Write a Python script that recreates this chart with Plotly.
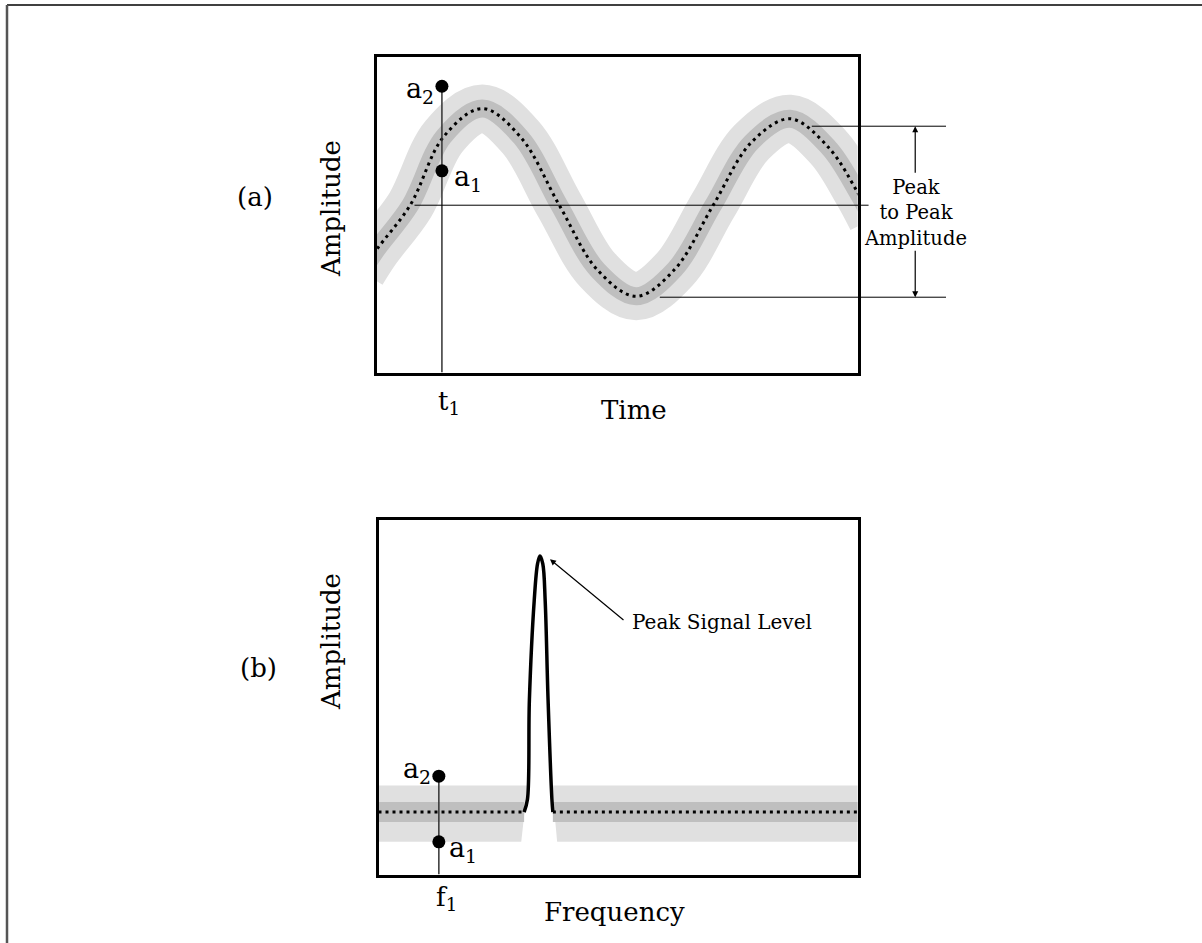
import plotly.graph_objects as go

W, H = 1202, 943
FONT = "DejaVu Serif"
LIGHT = "#e0e0e0"
DARK = "#bfbfbf"

# ---- panel (a): time domain signal
t_sig = [-0.3, 0.0, 0.7, 1.4, 2.2, 3.0, 3.8, 4.6, 5.4, 6.2, 7.0, 7.8, 8.6, 9.4, 10.0, 10.3]
a_sig = [-0.72, -0.48, 0.0, 0.74, 1.04, 0.73, 0.0, -0.70, -0.98, -0.69, 0.0, 0.68, 0.93, 0.62, 0.14, -0.15]
t1 = 1.36
t1_a1, t1_a2 = 0.37, 1.28
mid_level, mid_start, mid_end = 0.0, 0.79, 10.23
pp_hi, pp_hi_start = 0.85, 9.05
pp_lo, pp_lo_start = -0.99, 5.89
pp_end = 11.84
pp_x = 11.2

# ---- panel (b): spectrum
f_floor_left = [0.0, 3.04]
f_floor_right = [3.64, 10.0]
floor_level = 1.76
dark_band = [1.48, 2.04]
light_band = [0.92, 2.51]
notch_top = [3.11, 3.62]
notch_bottom = [2.98, 3.73]
peak_f = [3.04, 3.11, 3.15, 3.25, 3.32, 3.37, 3.43, 3.48, 3.54, 3.62, 3.64]
peak_a = [1.76, 2.12, 4.92, 7.70, 8.75, 8.97, 8.75, 7.70, 4.92, 2.12, 1.76]
f1 = 1.26
f1_a1, f1_a2 = 0.92, 2.77
peak_arrow = (3.58, 8.88)

# axes layout (pixel boxes of the two panels, box line drawn just outside the domain)
AX_A = dict(xr=[0, 10], yr=[-1.8, 1.6], xd=[376.5 / W, 857.5 / W], yd=[1 - 372.5 / H, 1 - 56.5 / H])
AX_B = dict(xr=[0, 10], yr=[0, 10], xd=[378.5 / W, 857.5 / W], yd=[1 - 874.5 / H, 1 - 519.5 / H])


def to_paper(ax, x, y):
    px = ax["xd"][0] + (x - ax["xr"][0]) / (ax["xr"][1] - ax["xr"][0]) * (ax["xd"][1] - ax["xd"][0])
    py = ax["yd"][0] + (y - ax["yr"][0]) / (ax["yr"][1] - ax["yr"][0]) * (ax["yd"][1] - ax["yd"][0])
    return px, py


def pix(x, y):
    return x / W, 1 - y / H


fig = go.Figure()

# (a) bands + dotted signal
fig.add_trace(go.Scatter(x=t_sig, y=a_sig, mode="lines", line=dict(color=LIGHT, width=48, shape="spline"),
                         xaxis="x", yaxis="y", hoverinfo="skip"))
fig.add_trace(go.Scatter(x=t_sig, y=a_sig, mode="lines", line=dict(color=DARK, width=18, shape="spline"),
                         xaxis="x", yaxis="y", hoverinfo="skip"))
fig.add_trace(go.Scatter(x=t_sig, y=a_sig, mode="lines",
                         line=dict(color="black", width=3, shape="spline", dash="3px,4px"),
                         xaxis="x", yaxis="y", hoverinfo="skip"))
fig.add_trace(go.Scatter(x=[t1, t1], y=[AX_A["yr"][0], t1_a2], mode="lines", line=dict(color="#333", width=1.5),
                         xaxis="x", yaxis="y", hoverinfo="skip"))
fig.add_trace(go.Scatter(x=[t1, t1], y=[t1_a1, t1_a2], mode="markers", marker=dict(color="black", size=13),
                         xaxis="x", yaxis="y", hoverinfo="skip"))

# (b) bands with a notch under the peak
for xs in [[-0.1, notch_top[0], notch_bottom[0], -0.1], [notch_top[1], 10.1, 10.1, notch_bottom[1]]]:
    fig.add_trace(go.Scatter(x=xs + [xs[0]], y=[light_band[1], light_band[1], light_band[0], light_band[0],
                                                light_band[1]], mode="lines",
                             fill="toself", fillcolor=LIGHT, line=dict(width=0), xaxis="x2", yaxis="y2",
                             hoverinfo="skip"))
for xs in [[-0.1, f_floor_left[1]], [f_floor_right[0], 10.1]]:
    fig.add_trace(go.Scatter(x=[xs[0], xs[1], xs[1], xs[0], xs[0]],
                             y=[dark_band[1], dark_band[1], dark_band[0], dark_band[0], dark_band[1]],
                             mode="lines", fill="toself", fillcolor=DARK, line=dict(width=0),
                             xaxis="x2", yaxis="y2", hoverinfo="skip"))
for xs in [f_floor_left, f_floor_right]:
    fig.add_trace(go.Scatter(x=xs, y=[floor_level, floor_level], mode="lines",
                             line=dict(color="black", width=3, dash="3px,4px"),
                             xaxis="x2", yaxis="y2", hoverinfo="skip"))
fig.add_trace(go.Scatter(x=peak_f, y=peak_a, mode="lines", line=dict(color="black", width=3.5, shape="spline"),
                         xaxis="x2", yaxis="y2", hoverinfo="skip"))
fig.add_trace(go.Scatter(x=[f1, f1], y=[0, f1_a2], mode="lines", line=dict(color="#333", width=1.5),
                         xaxis="x2", yaxis="y2", hoverinfo="skip"))
fig.add_trace(go.Scatter(x=[f1, f1], y=[f1_a1, f1_a2], mode="markers", marker=dict(color="black", size=13),
                         xaxis="x2", yaxis="y2", hoverinfo="skip"))

shapes = []
# outer frame (top + left edges visible)
shapes.append(dict(type="line", xref="paper", yref="paper", x0=7 / W, x1=1.01, y0=1 - 5 / H, y1=1 - 5 / H,
                   line=dict(color="black", width=1.5)))
shapes.append(dict(type="line", xref="paper", yref="paper", x0=7 / W, x1=7 / W, y0=1 - 5 / H, y1=-0.01,
                   line=dict(color="#555", width=2.5)))
# reference lines in (a)
for lvl, x0, x1 in [(mid_level, mid_start, mid_end), (pp_hi, pp_hi_start, pp_end), (pp_lo, pp_lo_start, pp_end)]:
    p0 = to_paper(AX_A, x0, lvl)
    p1 = to_paper(AX_A, x1, lvl)
    shapes.append(dict(type="line", xref="paper", yref="paper", x0=p0[0], y0=p0[1], x1=p1[0], y1=p1[1],
                       line=dict(color="black", width=1)))

annotations = []


def label(text, x, y, size, angle=0, xanchor="center"):
    annotations.append(dict(text=text, x=x, y=y, xref="paper", yref="paper", showarrow=False,
                            font=dict(family=FONT, size=size, color="black"), textangle=angle,
                            xanchor=xanchor, yanchor="middle"))


def point_label(text, ax, x, y, xanchor, xshift, yshift):
    px_, py_ = to_paper(ax, x, y)
    annotations.append(dict(text=text, x=px_, y=py_, xref="paper", yref="paper", showarrow=False,
                            xanchor=xanchor, yanchor="middle", xshift=xshift, yshift=yshift,
                            font=dict(family=FONT, size=27, color="black")))


def arrow(x, y, ax, ay):
    annotations.append(dict(x=x, y=y, xref="paper", yref="paper", ax=ax, ay=ay, text="", showarrow=True,
                            arrowhead=2, arrowsize=1, arrowwidth=1.2, arrowcolor="black"))


# peak-to-peak arrows
hx, hy = to_paper(AX_A, pp_x, pp_hi)
lx, ly = to_paper(AX_A, pp_x, pp_lo)
arrow(hx, hy, 0, 48)
arrow(lx, ly, 0, -48)
label("Peak<br>to Peak<br>Amplitude", hx, (hy + ly) / 2 - 0.001, 19.5)

# peak signal level arrow
arrow(*to_paper(AX_B, *peak_arrow), 75, 62)
label("Peak Signal Level", *pix(630, 622), 20, xanchor="left")

# axis and point labels
label("(a)", *pix(255, 197), 26)
label("(b)", *pix(258, 668), 26)
label("Amplitude", *pix(331, 209), 26, angle=-90)
label("Amplitude", *pix(331, 642), 26, angle=-90)
label("Time", *pix(634, 410), 26)
label("Frequency", *pix(614, 912), 26)
label("t<sub>1</sub>", *pix(449, 403), 26)
label("f<sub>1</sub>", *pix(446, 898), 26)

point_label("a<sub>2</sub>", AX_A, t1, t1_a2, "right", -6, -4)
point_label("a<sub>1</sub>", AX_A, t1, t1_a1, "left", 10, -8)
point_label("a<sub>2</sub>", AX_B, f1, f1_a2, "right", -6, 6)
point_label("a<sub>1</sub>", AX_B, f1, f1_a1, "left", 8, -8)

box = dict(showline=True, mirror=True, linewidth=3, linecolor="black", showgrid=False, zeroline=False,
           showticklabels=False, ticks="", fixedrange=True)

fig.update_layout(
    width=W, height=H, margin=dict(l=0, r=0, t=0, b=0),
    paper_bgcolor="white", plot_bgcolor="white", showlegend=False,
    xaxis=dict(range=AX_A["xr"], domain=AX_A["xd"], anchor="y", **box),
    yaxis=dict(range=AX_A["yr"], domain=AX_A["yd"], anchor="x", **box),
    xaxis2=dict(range=AX_B["xr"], domain=AX_B["xd"], anchor="y2", **box),
    yaxis2=dict(range=AX_B["yr"], domain=AX_B["yd"], anchor="x2", **box),
    shapes=shapes, annotations=annotations,
)

# page has a default 8px body margin; drop it so the figure sits at the top-left corner
fig.write_html("out.html", config={"displayModeBar": False},
               post_script="document.body.style.margin='0';document.body.style.overflow='hidden';")
